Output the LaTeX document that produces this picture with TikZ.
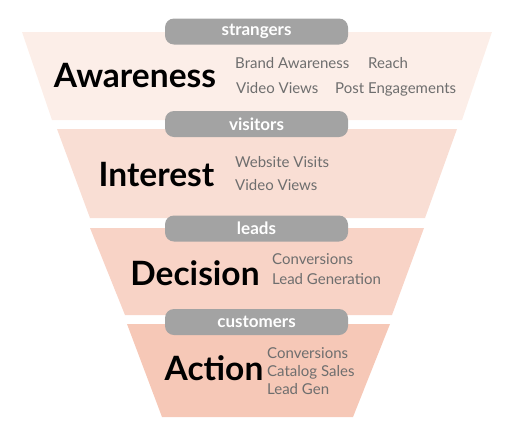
\documentclass[tikz,border=0pt]{standalone}
\usepackage{fontspec}
\setmainfont{Lato}
\definecolor{c1}{HTML}{FCEEE8}
\definecolor{c2}{HTML}{F9DED4}
\definecolor{c3}{HTML}{F8D3C6}
\definecolor{c4}{HTML}{F6C8B7}
\definecolor{pillgray}{HTML}{A3A3A3}
\definecolor{txtgray}{HTML}{6E6E6E}
\tikzset{
  pill/.style={fill=pillgray, rounded corners=9pt, minimum width=183pt, minimum height=26pt, inner sep=0pt, text=white, font=\fontsize{17}{17}\selectfont\bfseries},
  stage/.style={anchor=base, inner sep=0pt, text=black, font=\fontsize{33.5}{33.5}\selectfont\bfseries},
  metric/.style={anchor=base west, inner sep=0pt, text=txtgray, font=\fontsize{15}{15}\selectfont},
}
\begin{document}
\begin{tikzpicture}[x=1pt,y=-1pt]
\useasboundingbox (0,0) rectangle (511,429);
% funnel bands
\fill[c1] (22,32) -- (492,32) -- (462,120) -- (52,120) -- cycle;
\fill[c2] (57,129) -- (457,129) -- (425,218) -- (90,218) -- cycle;
\fill[c3] (90,228) -- (424,228) -- (392,315) -- (125,315) -- cycle;
\fill[c4] (127,324) -- (390,324) -- (353,417) -- (162,417) -- cycle;
% pills
\node[pill] (p1) at (256.5,31.5) {strangers};
\node[pill] (p2) at (256.5,124) {visitors};
\node[pill] (p3) at (256.5,228.5) {leads};
\node[pill] (p4) at (256.5,322) {customers};
% stage labels
\node[stage] (s1) at (135,87) {Awareness};
\node[stage] (s2) at (156.5,186) {Interest};
\node[stage] (s3) at (195,285) {Decision};
\node[stage] (s4) at (214,380) {Action};
% metrics
\node[metric] (m1a) at (235,68) {Brand Awareness};
\node[metric] (m1b) at (368,68) {Reach};
\node[metric] (m1c) at (236,93) {Video Views};
\node[metric] (m1d) at (335,93) {Post Engagements};
\node[metric] (m2a) at (235,167) {Website Visits};
\node[metric] (m2b) at (235,190) {Video Views};
\node[metric] (m3a) at (272,264) {Conversions};
\node[metric] (m3b) at (272,284) {Lead Generation};
\node[metric] (m4a) at (267,358) {Conversions};
\node[metric] (m4b) at (267,376) {Catalog Sales};
\node[metric] (m4c) at (267,394) {Lead Gen};
\end{tikzpicture}
\end{document}
